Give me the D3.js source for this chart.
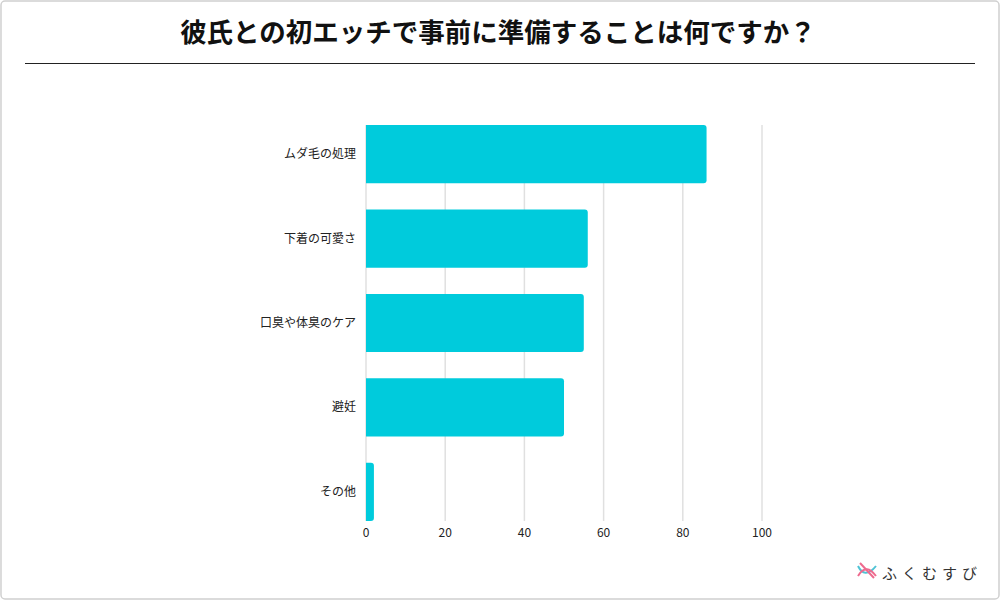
<!DOCTYPE html><html><head><meta charset="utf-8">
<script src="https://cdn.jsdelivr.net/npm/d3@7"></script>
<style>body{margin:0;background:#fff;font-family:"Noto Sans CJK JP","Noto Sans",sans-serif}</style></head><body>
<svg id="c" width="1000" height="600"></svg>
<script>
const title = "彼氏との初エッチで事前に準備することは何ですか？";
const categories = ["ムダ毛の処理","下着の可愛さ","口臭や体臭のケア","避妊","その他"];
const values = [86,56,55,50,2];
const ticks = [0,20,40,60,80,100];
const svg = d3.select("#c");
const F = '"Noto Sans CJK JP","Noto Sans",sans-serif';
svg.append("rect").attr("x",1).attr("y",1).attr("width",998).attr("height",598).attr("rx",4)
  .attr("fill","#fff").attr("stroke","#d0d0d0").attr("stroke-width",1.5);
svg.append("text").attr("x",498).attr("y",42).attr("text-anchor","middle").attr("font-family",F)
  .attr("font-size",26.5).attr("font-weight",700).attr("fill","#111").text(title);
svg.append("line").attr("x1",25).attr("x2",975).attr("y1",63.5).attr("y2",63.5).attr("stroke","#222");
const x = d3.scaleLinear().domain([0,100]).range([366,762]);
const y = d3.scaleBand().domain(categories).range([112,534]).paddingInner(0.31).paddingOuter(0.155);
const g = svg.append("g");
g.selectAll(".grid").data(ticks).join("line").attr("x1",d=>x(d)).attr("x2",d=>x(d))
  .attr("y1",125).attr("y2",521).attr("stroke","#e0e0e0").attr("stroke-width",1.5);
g.selectAll(".tl").data(ticks).join("text").attr("x",d=>x(d)).attr("y",537).attr("text-anchor","middle")
  .attr("font-family",F).attr("font-size",12).attr("fill","#222").text(d=>d);
const r=3;
g.selectAll(".bar").data(values).join("path").attr("fill","#00CBDC").attr("d",(d,i)=>{
  const x0=x(0), x1=x(d), y0=y(categories[i]), h=y.bandwidth(), rr=Math.min(r,(x1-x0)/2);
  return `M${x0},${y0}H${x1-rr}Q${x1},${y0} ${x1},${y0+rr}V${y0+h-rr}Q${x1},${y0+h} ${x1-rr},${y0+h}H${x0}Z`;
});
g.selectAll(".cl").data(categories).join("text").attr("x",356).attr("y",d=>y(d)+y.bandwidth()/2+4)
  .attr("text-anchor","end").attr("font-family",F).attr("font-size",12).attr("fill","#222").text(d=>d);
// logo
const lg = svg.append("g").attr("transform","translate(858,566)");
lg.append("path").attr("d","M0,0 C4,8 10,10 18,0").attr("fill","none").attr("stroke","#4FC3D5").attr("stroke-width",2);
lg.append("path").attr("d","M0,10 C6,0 12,2 18,10").attr("fill","none").attr("stroke","#EE6A8E").attr("stroke-width",2);
lg.append("path").attr("d","M2,-3 L16,12").attr("stroke","#EE6A8E").attr("stroke-width",2);
svg.append("text").attr("x",882).attr("y",579).attr("font-family",F).attr("font-size",15)
  .attr("letter-spacing",5).attr("fill","#333").text("ふくむすび");
</script></body></html>
